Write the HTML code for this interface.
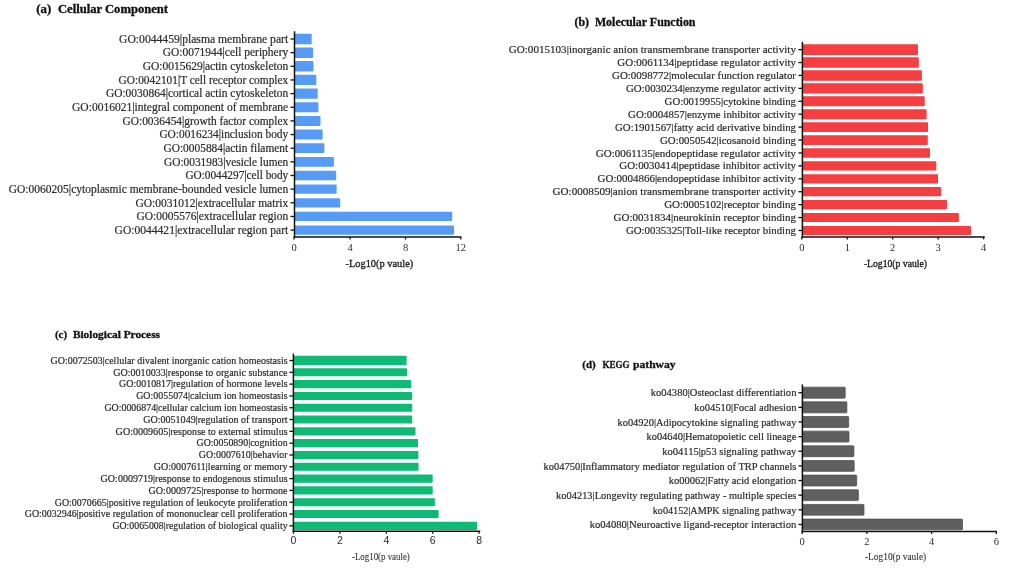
<!DOCTYPE html>
<html><head><meta charset="utf-8"><style>
html,body{margin:0;padding:0;background:#fff;width:1020px;height:576px;overflow:hidden}
svg{display:block;will-change:transform}
text{font-family:"Liberation Serif",serif;fill:#2b2b2b}
.l{stroke:#2b2b2b;stroke-width:0.2px}
.t{fill:#111;stroke:#111;stroke-width:0.3px}
.xla,.xlb{fill:#222;stroke:#222;stroke-width:0.35px}
.xlc,.xld{fill:#333;stroke:#333;stroke-width:0.1px}
</style></head><body>
<svg width="1020" height="576" viewBox="0 0 1020 576">
<g id="pa"><text class="t" x="36.3" y="13.4" font-weight="bold" font-size="11.5" textLength="15.0" lengthAdjust="spacingAndGlyphs">(a)</text>
<text class="t" x="58.0" y="13.4" font-weight="bold" font-size="11.5" textLength="110.0" lengthAdjust="spacingAndGlyphs">Cellular Component</text>
<text class="l" x="119" y="42.80" font-size="11.7" textLength="169.2" lengthAdjust="spacingAndGlyphs">GO:0044459|plasma membrane part</text>
<text class="l" x="162.7" y="56.45" font-size="11.7" textLength="125.5" lengthAdjust="spacingAndGlyphs">GO:0071944|cell periphery</text>
<text class="l" x="142.7" y="70.10" font-size="11.7" textLength="145.5" lengthAdjust="spacingAndGlyphs">GO:0015629|actin cytoskeleton</text>
<text class="l" x="118.6" y="83.75" font-size="11.7" textLength="169.6" lengthAdjust="spacingAndGlyphs">GO:0042101|T cell receptor complex</text>
<text class="l" x="105.9" y="97.40" font-size="11.7" textLength="182.3" lengthAdjust="spacingAndGlyphs">GO:0030864|cortical actin cytoskeleton</text>
<text class="l" x="72" y="111.05" font-size="11.7" textLength="216.2" lengthAdjust="spacingAndGlyphs">GO:0016021|integral component of membrane</text>
<text class="l" x="122.5" y="124.70" font-size="11.7" textLength="165.7" lengthAdjust="spacingAndGlyphs">GO:0036454|growth factor complex</text>
<text class="l" x="159.4" y="138.35" font-size="11.7" textLength="128.8" lengthAdjust="spacingAndGlyphs">GO:0016234|inclusion body</text>
<text class="l" x="163.5" y="152.00" font-size="11.7" textLength="124.7" lengthAdjust="spacingAndGlyphs">GO:0005884|actin filament</text>
<text class="l" x="164" y="165.65" font-size="11.7" textLength="124.2" lengthAdjust="spacingAndGlyphs">GO:0031983|vesicle lumen</text>
<text class="l" x="185.4" y="179.30" font-size="11.7" textLength="102.8" lengthAdjust="spacingAndGlyphs">GO:0044297|cell body</text>
<text class="l" x="8.75" y="192.95" font-size="11.7" textLength="279.4" lengthAdjust="spacingAndGlyphs">GO:0060205|cytoplasmic membrane-bounded vesicle lumen</text>
<text class="l" x="135.4" y="206.60" font-size="11.7" textLength="152.8" lengthAdjust="spacingAndGlyphs">GO:0031012|extracellular matrix</text>
<text class="l" x="136.5" y="220.25" font-size="11.7" textLength="151.7" lengthAdjust="spacingAndGlyphs">GO:0005576|extracellular region</text>
<text class="l" x="114.6" y="233.90" font-size="11.7" textLength="173.6" lengthAdjust="spacingAndGlyphs">GO:0044421|extracellular region part</text>
<rect x="294.5" y="33.70" width="17.20" height="10.60" rx="0.8" fill="#569cf7"/>
<rect x="294.5" y="47.40" width="18.60" height="10.49" rx="0.8" fill="#569cf7"/>
<rect x="294.5" y="61.11" width="19.00" height="10.39" rx="0.8" fill="#569cf7"/>
<rect x="294.5" y="74.81" width="21.80" height="10.28" rx="0.8" fill="#569cf7"/>
<rect x="294.5" y="88.51" width="23.20" height="10.17" rx="0.8" fill="#569cf7"/>
<rect x="294.5" y="102.22" width="23.90" height="10.06" rx="0.8" fill="#569cf7"/>
<rect x="294.5" y="115.92" width="26.00" height="9.96" rx="0.8" fill="#569cf7"/>
<rect x="294.5" y="129.62" width="28.10" height="9.85" rx="0.8" fill="#569cf7"/>
<rect x="294.5" y="143.33" width="29.90" height="9.74" rx="0.8" fill="#569cf7"/>
<rect x="294.5" y="157.03" width="39.40" height="9.64" rx="0.8" fill="#569cf7"/>
<rect x="294.5" y="170.74" width="41.70" height="9.53" rx="0.8" fill="#569cf7"/>
<rect x="294.5" y="184.44" width="42.10" height="9.42" rx="0.8" fill="#569cf7"/>
<rect x="294.5" y="198.14" width="45.70" height="9.31" rx="0.8" fill="#569cf7"/>
<rect x="294.5" y="211.85" width="157.70" height="9.21" rx="0.8" fill="#569cf7"/>
<rect x="294.5" y="225.55" width="159.50" height="9.10" rx="0.8" fill="#569cf7"/>
<line x1="290.5" x2="294.5" y1="39.00" y2="39.00" stroke="#111" stroke-width="1.3"/>
<line x1="290.5" x2="294.5" y1="52.65" y2="52.65" stroke="#111" stroke-width="1.3"/>
<line x1="290.5" x2="294.5" y1="66.30" y2="66.30" stroke="#111" stroke-width="1.3"/>
<line x1="290.5" x2="294.5" y1="79.95" y2="79.95" stroke="#111" stroke-width="1.3"/>
<line x1="290.5" x2="294.5" y1="93.60" y2="93.60" stroke="#111" stroke-width="1.3"/>
<line x1="290.5" x2="294.5" y1="107.25" y2="107.25" stroke="#111" stroke-width="1.3"/>
<line x1="290.5" x2="294.5" y1="120.90" y2="120.90" stroke="#111" stroke-width="1.3"/>
<line x1="290.5" x2="294.5" y1="134.55" y2="134.55" stroke="#111" stroke-width="1.3"/>
<line x1="290.5" x2="294.5" y1="148.20" y2="148.20" stroke="#111" stroke-width="1.3"/>
<line x1="290.5" x2="294.5" y1="161.85" y2="161.85" stroke="#111" stroke-width="1.3"/>
<line x1="290.5" x2="294.5" y1="175.50" y2="175.50" stroke="#111" stroke-width="1.3"/>
<line x1="290.5" x2="294.5" y1="189.15" y2="189.15" stroke="#111" stroke-width="1.3"/>
<line x1="290.5" x2="294.5" y1="202.80" y2="202.80" stroke="#111" stroke-width="1.3"/>
<line x1="290.5" x2="294.5" y1="216.45" y2="216.45" stroke="#111" stroke-width="1.3"/>
<line x1="290.5" x2="294.5" y1="230.10" y2="230.10" stroke="#111" stroke-width="1.3"/>
<line x1="294.5" x2="294.5" y1="31.3" y2="237.75" stroke="#111" stroke-width="1.5"/>
<line x1="293.75" x2="461.4" y1="237.0" y2="237.0" stroke="#111" stroke-width="1.5"/>
<line x1="294.00" x2="294.00" y1="237.0" y2="239.5" stroke="#111" stroke-width="1.3"/>
<text x="294.00" y="251.4" style="font-family:&quot;Liberation Serif&quot;" font-size="10.5" text-anchor="middle">0</text>
<line x1="350.00" x2="350.00" y1="237.0" y2="239.5" stroke="#111" stroke-width="1.3"/>
<text x="350.00" y="251.4" style="font-family:&quot;Liberation Serif&quot;" font-size="10.5" text-anchor="middle">4</text>
<line x1="405.50" x2="405.50" y1="237.0" y2="239.5" stroke="#111" stroke-width="1.3"/>
<text x="405.50" y="251.4" style="font-family:&quot;Liberation Serif&quot;" font-size="10.5" text-anchor="middle">8</text>
<line x1="460.80" x2="460.80" y1="237.0" y2="239.5" stroke="#111" stroke-width="1.3"/>
<text x="460.80" y="251.4" style="font-family:&quot;Liberation Serif&quot;" font-size="10.5" text-anchor="middle">12</text>
<text class="xla" x="345.5" y="266.9" font-size="11.3" textLength="67.7" lengthAdjust="spacingAndGlyphs">-Log10(p vaule)</text></g>
<g id="pb"><text class="t" x="574.5" y="25.9" font-weight="bold" font-size="11.5" textLength="14.6" lengthAdjust="spacingAndGlyphs">(b)</text>
<text class="t" x="594.9" y="25.9" font-weight="bold" font-size="11.5" textLength="100.6" lengthAdjust="spacingAndGlyphs">Molecular Function</text>
<text class="l" x="508.75" y="53.20" font-size="11.0" textLength="287.2" lengthAdjust="spacingAndGlyphs">GO:0015103|inorganic anion transmembrane transporter activity</text>
<text class="l" x="617.3" y="66.12" font-size="11.0" textLength="178.7" lengthAdjust="spacingAndGlyphs">GO:0061134|peptidase regulator activity</text>
<text class="l" x="612" y="79.04" font-size="11.0" textLength="184.0" lengthAdjust="spacingAndGlyphs">GO:0098772|molecular function regulator</text>
<text class="l" x="626" y="91.96" font-size="11.0" textLength="170.0" lengthAdjust="spacingAndGlyphs">GO:0030234|enzyme regulator activity</text>
<text class="l" x="664.6" y="104.88" font-size="11.0" textLength="131.4" lengthAdjust="spacingAndGlyphs">GO:0019955|cytokine binding</text>
<text class="l" x="628.1" y="117.80" font-size="11.0" textLength="167.9" lengthAdjust="spacingAndGlyphs">GO:0004857|enzyme inhibitor activity</text>
<text class="l" x="615" y="130.72" font-size="11.0" textLength="181.0" lengthAdjust="spacingAndGlyphs">GO:1901567|fatty acid derivative binding</text>
<text class="l" x="660" y="143.64" font-size="11.0" textLength="136.0" lengthAdjust="spacingAndGlyphs">GO:0050542|icosanoid binding</text>
<text class="l" x="595.8" y="156.56" font-size="11.0" textLength="200.2" lengthAdjust="spacingAndGlyphs">GO:0061135|endopeptidase regulator activity</text>
<text class="l" x="619.3" y="169.48" font-size="11.0" textLength="176.7" lengthAdjust="spacingAndGlyphs">GO:0030414|peptidase inhibitor activity</text>
<text class="l" x="597.6" y="182.40" font-size="11.0" textLength="198.4" lengthAdjust="spacingAndGlyphs">GO:0004866|endopeptidase inhibitor activity</text>
<text class="l" x="552.5" y="195.32" font-size="11.0" textLength="243.5" lengthAdjust="spacingAndGlyphs">GO:0008509|anion transmembrane transporter activity</text>
<text class="l" x="664.2" y="208.24" font-size="11.0" textLength="131.8" lengthAdjust="spacingAndGlyphs">GO:0005102|receptor binding</text>
<text class="l" x="613.6" y="221.16" font-size="11.0" textLength="182.4" lengthAdjust="spacingAndGlyphs">GO:0031834|neurokinin receptor binding</text>
<text class="l" x="625.9" y="234.08" font-size="11.0" textLength="170.1" lengthAdjust="spacingAndGlyphs">GO:0035325|Toll-like receptor binding</text>
<rect x="802.4" y="44.27" width="115.60" height="10.65" rx="0.8" fill="#f43e42"/>
<rect x="802.4" y="57.26" width="116.40" height="10.52" rx="0.8" fill="#f43e42"/>
<rect x="802.4" y="70.25" width="119.50" height="10.39" rx="0.8" fill="#f43e42"/>
<rect x="802.4" y="83.23" width="120.40" height="10.25" rx="0.8" fill="#f43e42"/>
<rect x="802.4" y="96.22" width="122.30" height="10.12" rx="0.8" fill="#f43e42"/>
<rect x="802.4" y="109.21" width="124.20" height="9.99" rx="0.8" fill="#f43e42"/>
<rect x="802.4" y="122.19" width="125.60" height="9.86" rx="0.8" fill="#f43e42"/>
<rect x="802.4" y="135.18" width="125.40" height="9.73" rx="0.8" fill="#f43e42"/>
<rect x="802.4" y="148.16" width="127.60" height="9.59" rx="0.8" fill="#f43e42"/>
<rect x="802.4" y="161.15" width="133.90" height="9.46" rx="0.8" fill="#f43e42"/>
<rect x="802.4" y="174.14" width="135.60" height="9.33" rx="0.8" fill="#f43e42"/>
<rect x="802.4" y="187.12" width="138.60" height="9.20" rx="0.8" fill="#f43e42"/>
<rect x="802.4" y="200.11" width="144.60" height="9.06" rx="0.8" fill="#f43e42"/>
<rect x="802.4" y="213.09" width="156.50" height="8.93" rx="0.8" fill="#f43e42"/>
<rect x="802.4" y="226.08" width="168.60" height="8.80" rx="0.8" fill="#f43e42"/>
<line x1="798.4" x2="802.4" y1="49.60" y2="49.60" stroke="#111" stroke-width="1.3"/>
<line x1="798.4" x2="802.4" y1="62.52" y2="62.52" stroke="#111" stroke-width="1.3"/>
<line x1="798.4" x2="802.4" y1="75.44" y2="75.44" stroke="#111" stroke-width="1.3"/>
<line x1="798.4" x2="802.4" y1="88.36" y2="88.36" stroke="#111" stroke-width="1.3"/>
<line x1="798.4" x2="802.4" y1="101.28" y2="101.28" stroke="#111" stroke-width="1.3"/>
<line x1="798.4" x2="802.4" y1="114.20" y2="114.20" stroke="#111" stroke-width="1.3"/>
<line x1="798.4" x2="802.4" y1="127.12" y2="127.12" stroke="#111" stroke-width="1.3"/>
<line x1="798.4" x2="802.4" y1="140.04" y2="140.04" stroke="#111" stroke-width="1.3"/>
<line x1="798.4" x2="802.4" y1="152.96" y2="152.96" stroke="#111" stroke-width="1.3"/>
<line x1="798.4" x2="802.4" y1="165.88" y2="165.88" stroke="#111" stroke-width="1.3"/>
<line x1="798.4" x2="802.4" y1="178.80" y2="178.80" stroke="#111" stroke-width="1.3"/>
<line x1="798.4" x2="802.4" y1="191.72" y2="191.72" stroke="#111" stroke-width="1.3"/>
<line x1="798.4" x2="802.4" y1="204.64" y2="204.64" stroke="#111" stroke-width="1.3"/>
<line x1="798.4" x2="802.4" y1="217.56" y2="217.56" stroke="#111" stroke-width="1.3"/>
<line x1="798.4" x2="802.4" y1="230.48" y2="230.48" stroke="#111" stroke-width="1.3"/>
<line x1="802.4" x2="802.4" y1="41.8" y2="237.65" stroke="#111" stroke-width="1.5"/>
<line x1="801.65" x2="984.8" y1="236.9" y2="236.9" stroke="#111" stroke-width="1.5"/>
<line x1="801.80" x2="801.80" y1="236.9" y2="239.4" stroke="#111" stroke-width="1.3"/>
<text x="801.80" y="250.5" style="font-family:&quot;Liberation Serif&quot;" font-size="10.5" text-anchor="middle">0</text>
<line x1="847.25" x2="847.25" y1="236.9" y2="239.4" stroke="#111" stroke-width="1.3"/>
<text x="847.25" y="250.5" style="font-family:&quot;Liberation Serif&quot;" font-size="10.5" text-anchor="middle">1</text>
<line x1="892.70" x2="892.70" y1="236.9" y2="239.4" stroke="#111" stroke-width="1.3"/>
<text x="892.70" y="250.5" style="font-family:&quot;Liberation Serif&quot;" font-size="10.5" text-anchor="middle">2</text>
<line x1="938.15" x2="938.15" y1="236.9" y2="239.4" stroke="#111" stroke-width="1.3"/>
<text x="938.15" y="250.5" style="font-family:&quot;Liberation Serif&quot;" font-size="10.5" text-anchor="middle">3</text>
<line x1="983.60" x2="983.60" y1="236.9" y2="239.4" stroke="#111" stroke-width="1.3"/>
<text x="983.60" y="250.5" style="font-family:&quot;Liberation Serif&quot;" font-size="10.5" text-anchor="middle">4</text>
<text class="xlb" x="863.9" y="266.5" font-size="10.5" textLength="63.1" lengthAdjust="spacingAndGlyphs">-Log10(p vaule)</text></g>
<g id="pc"><text class="t" x="54.9" y="337.8" font-weight="bold" font-size="10.6" textLength="12.2" lengthAdjust="spacingAndGlyphs">(c)</text>
<text class="t" x="72.9" y="337.8" font-weight="bold" font-size="10.6" textLength="87.1" lengthAdjust="spacingAndGlyphs">Biological Process</text>
<text class="l" x="50.6" y="363.80" font-size="10.3" textLength="237.0" lengthAdjust="spacingAndGlyphs">GO:0072503|cellular divalent inorganic cation homeostasis</text>
<text class="l" x="113.2" y="375.61" font-size="10.3" textLength="174.4" lengthAdjust="spacingAndGlyphs">GO:0010033|response to organic substance</text>
<text class="l" x="119.1" y="387.42" font-size="10.3" textLength="168.5" lengthAdjust="spacingAndGlyphs">GO:0010817|regulation of hormone levels</text>
<text class="l" x="136.2" y="399.23" font-size="10.3" textLength="151.4" lengthAdjust="spacingAndGlyphs">GO:0055074|calcium ion homeostasis</text>
<text class="l" x="104.4" y="411.04" font-size="10.3" textLength="183.2" lengthAdjust="spacingAndGlyphs">GO:0006874|cellular calcium ion homeostasis</text>
<text class="l" x="143.2" y="422.85" font-size="10.3" textLength="144.4" lengthAdjust="spacingAndGlyphs">GO:0051049|regulation of transport</text>
<text class="l" x="115.6" y="434.66" font-size="10.3" textLength="172.0" lengthAdjust="spacingAndGlyphs">GO:0009605|response to external stimulus</text>
<text class="l" x="196.5" y="446.47" font-size="10.3" textLength="91.1" lengthAdjust="spacingAndGlyphs">GO:0050890|cognition</text>
<text class="l" x="198.8" y="458.28" font-size="10.3" textLength="88.8" lengthAdjust="spacingAndGlyphs">GO:0007610|behavior</text>
<text class="l" x="153.8" y="470.09" font-size="10.3" textLength="133.8" lengthAdjust="spacingAndGlyphs">GO:0007611|learning or memory</text>
<text class="l" x="100.6" y="481.90" font-size="10.3" textLength="187.0" lengthAdjust="spacingAndGlyphs">GO:0009719|response to endogenous stimulus</text>
<text class="l" x="148.5" y="493.71" font-size="10.3" textLength="139.1" lengthAdjust="spacingAndGlyphs">GO:0009725|response to hormone</text>
<text class="l" x="54.7" y="505.52" font-size="10.3" textLength="232.9" lengthAdjust="spacingAndGlyphs">GO:0070665|positive regulation of leukocyte proliferation</text>
<text class="l" x="24.7" y="517.33" font-size="10.3" textLength="262.9" lengthAdjust="spacingAndGlyphs">GO:0032946|positive regulation of mononuclear cell proliferation</text>
<text class="l" x="112.4" y="529.14" font-size="10.3" textLength="175.2" lengthAdjust="spacingAndGlyphs">GO:0065008|regulation of biological quality</text>
<rect x="293.4" y="355.80" width="113.20" height="9.40" rx="0.8" fill="#0fba77"/>
<rect x="293.4" y="368.26" width="113.60" height="8.10" rx="0.8" fill="#0fba77"/>
<rect x="293.4" y="380.07" width="117.70" height="8.10" rx="0.8" fill="#0fba77"/>
<rect x="293.4" y="391.88" width="118.80" height="8.10" rx="0.8" fill="#0fba77"/>
<rect x="293.4" y="403.69" width="118.80" height="8.10" rx="0.8" fill="#0fba77"/>
<rect x="293.4" y="415.50" width="118.80" height="8.10" rx="0.8" fill="#0fba77"/>
<rect x="293.4" y="427.31" width="122.10" height="8.10" rx="0.8" fill="#0fba77"/>
<rect x="293.4" y="439.12" width="124.60" height="8.10" rx="0.8" fill="#0fba77"/>
<rect x="293.4" y="450.93" width="125.00" height="8.10" rx="0.8" fill="#0fba77"/>
<rect x="293.4" y="462.74" width="125.20" height="8.10" rx="0.8" fill="#0fba77"/>
<rect x="293.4" y="474.55" width="139.30" height="8.10" rx="0.8" fill="#0fba77"/>
<rect x="293.4" y="486.36" width="139.30" height="8.10" rx="0.8" fill="#0fba77"/>
<rect x="293.4" y="498.17" width="141.50" height="8.10" rx="0.8" fill="#0fba77"/>
<rect x="293.4" y="509.98" width="145.20" height="8.10" rx="0.8" fill="#0fba77"/>
<rect x="293.4" y="521.79" width="183.70" height="8.10" rx="0.8" fill="#0fba77"/>
<line x1="289.4" x2="293.4" y1="360.50" y2="360.50" stroke="#111" stroke-width="1.3"/>
<line x1="289.4" x2="293.4" y1="372.31" y2="372.31" stroke="#111" stroke-width="1.3"/>
<line x1="289.4" x2="293.4" y1="384.12" y2="384.12" stroke="#111" stroke-width="1.3"/>
<line x1="289.4" x2="293.4" y1="395.93" y2="395.93" stroke="#111" stroke-width="1.3"/>
<line x1="289.4" x2="293.4" y1="407.74" y2="407.74" stroke="#111" stroke-width="1.3"/>
<line x1="289.4" x2="293.4" y1="419.55" y2="419.55" stroke="#111" stroke-width="1.3"/>
<line x1="289.4" x2="293.4" y1="431.36" y2="431.36" stroke="#111" stroke-width="1.3"/>
<line x1="289.4" x2="293.4" y1="443.17" y2="443.17" stroke="#111" stroke-width="1.3"/>
<line x1="289.4" x2="293.4" y1="454.98" y2="454.98" stroke="#111" stroke-width="1.3"/>
<line x1="289.4" x2="293.4" y1="466.79" y2="466.79" stroke="#111" stroke-width="1.3"/>
<line x1="289.4" x2="293.4" y1="478.60" y2="478.60" stroke="#111" stroke-width="1.3"/>
<line x1="289.4" x2="293.4" y1="490.41" y2="490.41" stroke="#111" stroke-width="1.3"/>
<line x1="289.4" x2="293.4" y1="502.22" y2="502.22" stroke="#111" stroke-width="1.3"/>
<line x1="289.4" x2="293.4" y1="514.03" y2="514.03" stroke="#111" stroke-width="1.3"/>
<line x1="289.4" x2="293.4" y1="525.84" y2="525.84" stroke="#111" stroke-width="1.3"/>
<line x1="293.4" x2="293.4" y1="353.6" y2="531.95" stroke="#111" stroke-width="1.5"/>
<line x1="292.65" x2="480.2" y1="531.2" y2="531.2" stroke="#111" stroke-width="1.5"/>
<line x1="293.50" x2="293.50" y1="531.2" y2="533.7" stroke="#111" stroke-width="1.3"/>
<text x="293.50" y="544.0" style="font-family:&quot;Liberation Sans&quot;" font-size="10.5" text-anchor="middle">0</text>
<line x1="339.90" x2="339.90" y1="531.2" y2="533.7" stroke="#111" stroke-width="1.3"/>
<text x="339.90" y="544.0" style="font-family:&quot;Liberation Sans&quot;" font-size="10.5" text-anchor="middle">2</text>
<line x1="386.30" x2="386.30" y1="531.2" y2="533.7" stroke="#111" stroke-width="1.3"/>
<text x="386.30" y="544.0" style="font-family:&quot;Liberation Sans&quot;" font-size="10.5" text-anchor="middle">4</text>
<line x1="432.70" x2="432.70" y1="531.2" y2="533.7" stroke="#111" stroke-width="1.3"/>
<text x="432.70" y="544.0" style="font-family:&quot;Liberation Sans&quot;" font-size="10.5" text-anchor="middle">6</text>
<line x1="479.10" x2="479.10" y1="531.2" y2="533.7" stroke="#111" stroke-width="1.3"/>
<text x="479.10" y="544.0" style="font-family:&quot;Liberation Sans&quot;" font-size="10.5" text-anchor="middle">8</text>
<text class="xlc" x="352" y="560.0" font-size="9.5" textLength="57.8" lengthAdjust="spacingAndGlyphs">-Log10(p vaule)</text></g>
<g id="pd"><text class="t" x="582.3" y="368.4" font-weight="bold" font-size="10.8" textLength="13.5" lengthAdjust="spacingAndGlyphs">(d)</text>
<text class="t" x="602.6" y="368.4" font-weight="bold" font-size="10.8" textLength="27.0" lengthAdjust="spacingAndGlyphs">KEGG</text>
<text class="t" x="633.0" y="368.4" font-weight="bold" font-size="10.8" textLength="42.6" lengthAdjust="spacingAndGlyphs">pathway</text>
<text class="l" x="650.8" y="396.40" font-size="10.8" textLength="145.6" lengthAdjust="spacingAndGlyphs">ko04380|Osteoclast differentiation</text>
<text class="l" x="694.3" y="411.04" font-size="10.8" textLength="102.1" lengthAdjust="spacingAndGlyphs">ko04510|Focal adhesion</text>
<text class="l" x="617.5" y="425.68" font-size="10.8" textLength="178.9" lengthAdjust="spacingAndGlyphs">ko04920|Adipocytokine signaling pathway</text>
<text class="l" x="646.5" y="440.32" font-size="10.8" textLength="149.9" lengthAdjust="spacingAndGlyphs">ko04640|Hematopoietic cell lineage</text>
<text class="l" x="662.2" y="454.96" font-size="10.8" textLength="134.2" lengthAdjust="spacingAndGlyphs">ko04115|p53 signaling pathway</text>
<text class="l" x="543.6" y="469.60" font-size="10.8" textLength="252.8" lengthAdjust="spacingAndGlyphs">ko04750|Inflammatory mediator regulation of TRP channels</text>
<text class="l" x="668.7" y="484.24" font-size="10.8" textLength="127.7" lengthAdjust="spacingAndGlyphs">ko00062|Fatty acid elongation</text>
<text class="l" x="556.1" y="498.88" font-size="10.8" textLength="240.3" lengthAdjust="spacingAndGlyphs">ko04213|Longevity regulating pathway - multiple species</text>
<text class="l" x="652.8" y="513.52" font-size="10.8" textLength="143.6" lengthAdjust="spacingAndGlyphs">ko04152|AMPK signaling pathway</text>
<text class="l" x="589.7" y="528.16" font-size="10.8" textLength="206.7" lengthAdjust="spacingAndGlyphs">ko04080|Neuroactive ligand-receptor interaction</text>
<rect x="802.4" y="387.20" width="42.80" height="11.00" rx="0.8" fill="#5f5f5f" stroke="#474747" stroke-width="0.7"/>
<rect x="802.4" y="401.85" width="44.50" height="10.98" rx="0.8" fill="#5f5f5f" stroke="#474747" stroke-width="0.7"/>
<rect x="802.4" y="416.50" width="46.30" height="10.96" rx="0.8" fill="#5f5f5f" stroke="#474747" stroke-width="0.7"/>
<rect x="802.4" y="431.15" width="46.60" height="10.93" rx="0.8" fill="#5f5f5f" stroke="#474747" stroke-width="0.7"/>
<rect x="802.4" y="445.80" width="51.50" height="10.91" rx="0.8" fill="#5f5f5f" stroke="#474747" stroke-width="0.7"/>
<rect x="802.4" y="460.46" width="51.80" height="10.89" rx="0.8" fill="#5f5f5f" stroke="#474747" stroke-width="0.7"/>
<rect x="802.4" y="475.11" width="54.30" height="10.87" rx="0.8" fill="#5f5f5f" stroke="#474747" stroke-width="0.7"/>
<rect x="802.4" y="489.76" width="56.00" height="10.84" rx="0.8" fill="#5f5f5f" stroke="#474747" stroke-width="0.7"/>
<rect x="802.4" y="504.41" width="61.60" height="10.82" rx="0.8" fill="#5f5f5f" stroke="#474747" stroke-width="0.7"/>
<rect x="802.4" y="519.06" width="160.10" height="10.80" rx="0.8" fill="#5f5f5f" stroke="#474747" stroke-width="0.7"/>
<line x1="798.4" x2="802.4" y1="392.70" y2="392.70" stroke="#111" stroke-width="1.3"/>
<line x1="798.4" x2="802.4" y1="407.34" y2="407.34" stroke="#111" stroke-width="1.3"/>
<line x1="798.4" x2="802.4" y1="421.98" y2="421.98" stroke="#111" stroke-width="1.3"/>
<line x1="798.4" x2="802.4" y1="436.62" y2="436.62" stroke="#111" stroke-width="1.3"/>
<line x1="798.4" x2="802.4" y1="451.26" y2="451.26" stroke="#111" stroke-width="1.3"/>
<line x1="798.4" x2="802.4" y1="465.90" y2="465.90" stroke="#111" stroke-width="1.3"/>
<line x1="798.4" x2="802.4" y1="480.54" y2="480.54" stroke="#111" stroke-width="1.3"/>
<line x1="798.4" x2="802.4" y1="495.18" y2="495.18" stroke="#111" stroke-width="1.3"/>
<line x1="798.4" x2="802.4" y1="509.82" y2="509.82" stroke="#111" stroke-width="1.3"/>
<line x1="798.4" x2="802.4" y1="524.46" y2="524.46" stroke="#111" stroke-width="1.3"/>
<line x1="802.4" x2="802.4" y1="384.4" y2="532.35" stroke="#111" stroke-width="1.5"/>
<line x1="801.65" x2="996.7" y1="531.6" y2="531.6" stroke="#111" stroke-width="1.5"/>
<line x1="802.10" x2="802.10" y1="531.6" y2="534.1" stroke="#111" stroke-width="1.3"/>
<text x="802.10" y="544.7" style="font-family:&quot;Liberation Serif&quot;" font-size="10.5" text-anchor="middle">0</text>
<line x1="866.85" x2="866.85" y1="531.6" y2="534.1" stroke="#111" stroke-width="1.3"/>
<text x="866.85" y="544.7" style="font-family:&quot;Liberation Serif&quot;" font-size="10.5" text-anchor="middle">2</text>
<line x1="931.60" x2="931.60" y1="531.6" y2="534.1" stroke="#111" stroke-width="1.3"/>
<text x="931.60" y="544.7" style="font-family:&quot;Liberation Serif&quot;" font-size="10.5" text-anchor="middle">4</text>
<line x1="996.35" x2="996.35" y1="531.6" y2="534.1" stroke="#111" stroke-width="1.3"/>
<text x="996.35" y="544.7" style="font-family:&quot;Liberation Serif&quot;" font-size="10.5" text-anchor="middle">6</text>
<text class="xld" x="865" y="559.7" font-size="9.5" textLength="61.2" lengthAdjust="spacingAndGlyphs">-Log10(p vaule)</text></g>
</svg>
</body></html>
